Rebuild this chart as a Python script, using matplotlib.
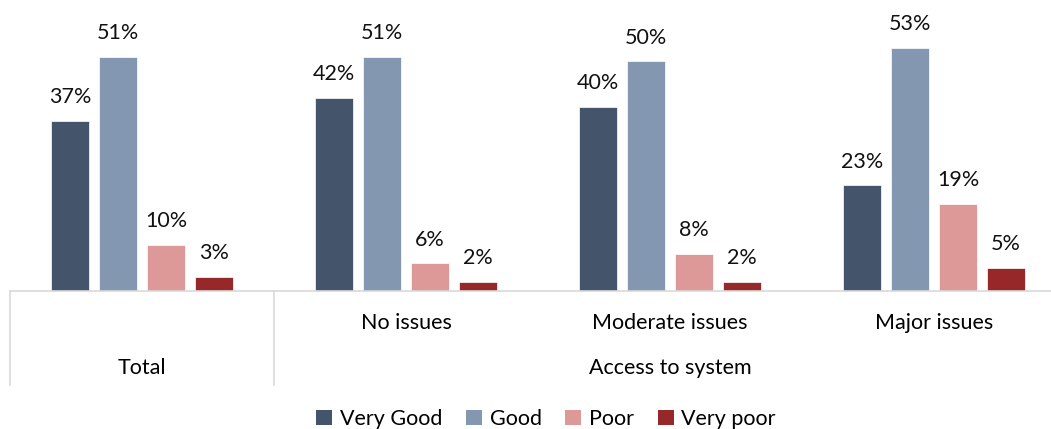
import matplotlib.pyplot as plt
from matplotlib.transforms import blended_transform_factory
from matplotlib.lines import Line2D
from matplotlib.patches import Patch
import numpy as np

# donnees
groups = ["Total", "No issues", "Moderate issues", "Major issues"]
series = ["Very Good", "Good", "Poor", "Very poor"]
very_good = [37, 42, 40, 23]
good = [51, 51, 50, 53]
poor = [10, 6, 8, 19]
very_poor = [3, 2, 2, 5]
colors = ["#44546A", "#8497B0", "#DD9898", "#97282A"]

plt.rcParams['font.family'] = ['Lato', 'DejaVu Sans']

W, H = 1051, 429
fs = 15.5
fig = plt.figure(figsize=(W / 100, H / 100), dpi=100)
# axe un peu plus large que l'image (coupe a droite comme l'original)
ax = fig.add_axes([10 / W, (H - 291) / H, 1056 / W, (291 - 20) / H])

x = np.arange(len(groups))
step = 0.182
width = 0.144
values = [very_good, good, poor, very_poor]
for i, vals in enumerate(values):
    pos = x + (i - 1.5) * step
    ax.bar(pos, vals, width=width, color=colors[i], edgecolor='white', linewidth=0.5)
    for p, v in zip(pos, vals):
        ax.text(p, v + 3.0, f"{v}%", ha='center', va='bottom', fontsize=fs, color='#111111')

ax.set_xlim(-0.5, 3.5)
ax.set_ylim(0, 59)
for s in ['top', 'right', 'left']:
    ax.spines[s].set_visible(False)
ax.spines['bottom'].set_color('#D9D9D9')
ax.spines['bottom'].set_linewidth(1.2)
ax.set_xticks([])
ax.set_yticks([])

# separateurs verticaux de l'axe multi-niveaux
trans = blended_transform_factory(ax.transData, fig.transFigure)
for xv in [-0.5, 0.5]:
    ax.add_line(Line2D([xv, xv], [(H - 291) / H, (H - 385) / H], transform=trans,
                       color='#D9D9D9', linewidth=1.2, clip_on=False))

# etiquettes des categories
for xi, g in zip(x[1:], groups[1:]):
    ax.text(xi, (H - 323) / H, g, transform=trans, ha='center', va='center', fontsize=fs)
ax.text(0, (H - 368) / H, "Total", transform=trans, ha='center', va='center', fontsize=fs)
ax.text(2, (H - 368) / H, "Access to system", transform=trans, ha='center', va='center', fontsize=fs)

handles = [Patch(facecolor=c, label=s) for c, s in zip(colors, series)]
fig.legend(handles=handles, loc='center', bbox_to_anchor=(546 / W, (H - 419) / H), ncol=4,
           frameon=False, fontsize=fs, handlelength=0.75, handleheight=0.75,
           handletextpad=0.35, columnspacing=1.1)

fig.savefig("out.png", dpi=100)
